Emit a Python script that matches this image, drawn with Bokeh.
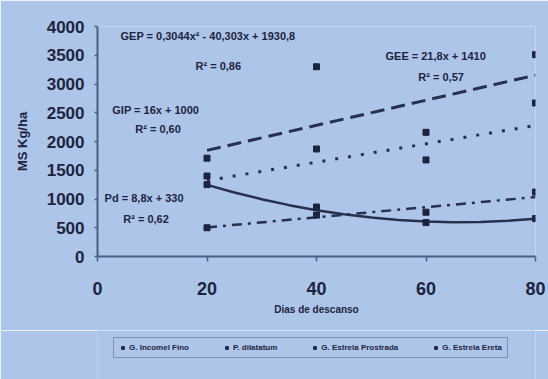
from bokeh.plotting import figure
from bokeh.layouts import column
from bokeh.models import Range1d, FixedTicker, Label, Legend, LegendItem
from bokeh.embed import file_html
from bokeh.resources import INLINE

# ---- data ----
days = [20, 40, 60, 80]
gif_pts = [1400, 1870, 1680, 2670]      # G. Incomel Fino (GIP)
pd_pts = [500, 720, 770, 1120]          # P. dilatatum (Pd)
gep_pts = [1250, 860, 590, 660]         # G. Estrela Prostrada (GEP)
gee_pts = [1710, 3300, 2160, 3510]      # G. Estrela Ereta (GEE)

lin_x = [20, 80]
gif_trend = [1320, 2280]
pd_trend = [506, 1034]
gee_trend = [1846, 3154]
quad_x = [20, 25, 30, 35, 40, 45, 50, 55, 60, 65, 70, 75, 80]
gep_trend = [1246, 1113, 996, 893, 806, 734, 677, 635, 608, 597, 601, 620, 655]

series_names = ["G. Incomel Fino", "P. dilatatum", "G. Estrela Prostrada", "G. Estrela Ereta"]
x_ticks = [0, 20, 40, 60, 80]

eq_texts = ["GEP = 0,3044x\u00b2 - 40,303x + 1930,8", "R\u00b2 = 0,86",
            "GIP = 16x + 1000", "R\u00b2 = 0,60",
            "Pd = 8,8x + 330", "R\u00b2 = 0,62",
            "GEE = 21,8x + 1410", "R\u00b2 = 0,57"]
eq_x = [4.2, 17.9, 2.7, 6.9, 1.3, 4.7, 52.6, 58.6]
eq_y = [3830, 3320, 2540, 2210, 1010, 645, 3480, 3130]

BG = "#aec5ea"
INK = "#1c2440"
LINE = "#27304f"
AXC = "#4d5d85"
FONT = "Liberation Sans"

p = figure(width=548, height=330, output_backend="svg", toolbar_location=None,
           x_range=Range1d(0, 80), y_range=Range1d(0, 4000),
           min_border_left=97, min_border_right=13, min_border_top=26, min_border_bottom=74)
p.background_fill_color = BG
p.border_fill_color = BG
p.outline_line_color = None
p.grid.grid_line_color = None

for ax in (p.xaxis[0], p.yaxis[0]):
    ax.axis_line_color = AXC
    ax.axis_line_width = 2
    ax.major_tick_line_color = AXC
    ax.major_tick_line_width = 1.5
    ax.minor_tick_line_color = None
    ax.major_label_text_font = FONT
    ax.major_label_text_font_style = "bold"
    ax.major_label_text_color = INK
    ax.axis_label_text_font = FONT
    ax.axis_label_text_font_style = "bold"
    ax.axis_label_text_color = INK

p.xaxis.ticker = FixedTicker(ticks=x_ticks)
p.xaxis.major_tick_out = 5
p.xaxis.major_tick_in = 0
p.xaxis.major_label_standoff = 20
p.xaxis.major_label_text_font_size = "18px"
p.xaxis.axis_label = "Dias de descanso"
p.xaxis.axis_label_text_font_size = "10px"
p.xaxis.axis_label_standoff = 6

p.yaxis.ticker = FixedTicker(ticks=list(range(0, 4001, 500)))
p.yaxis.major_tick_out = 3
p.yaxis.major_tick_in = 0
p.yaxis.major_label_standoff = 10
p.yaxis.major_label_text_font_size = "17px"
p.yaxis.axis_label = "MS Kg/ha"
p.yaxis.axis_label_text_font_size = "13px"
p.yaxis.axis_label_standoff = 14

# trend lines
p.line(lin_x, gee_trend, line_color=LINE, line_width=3, line_dash="14 7")
p.line(lin_x, gif_trend, line_color=LINE, line_width=3, line_dash="3 10")
p.line(lin_x, pd_trend, line_color=LINE, line_width=2.5, line_dash="10 6 3 6")
p.line(quad_x, gep_trend, line_color=LINE, line_width=2.5)

# points
for pts in (gif_pts, pd_pts, gep_pts, gee_pts):
    p.scatter(days, pts, marker="square", size=6, color=INK)

for t, xx, yy in zip(eq_texts, eq_x, eq_y):
    p.add_layout(Label(x=xx, y=yy, text=t, text_font=FONT, text_font_style="bold",
                       text_font_size="11px", text_color=INK, text_baseline="middle"))

# legend strip (separate figure so the legend sits below the axis title)
pl = figure(width=548, height=49, output_backend="svg", toolbar_location=None,
            x_range=Range1d(0, 1), y_range=Range1d(0, 1),
            min_border_left=0, min_border_right=0, min_border_top=0, min_border_bottom=0)
pl.background_fill_color = BG
pl.border_fill_color = BG
pl.outline_line_color = None
pl.grid.grid_line_color = None
pl.axis.visible = False
# legend-key renderers only (their single point lies outside the visible range)
leg_renderers = [pl.scatter([-5], [-5], marker="square", size=5, color=INK) for _ in series_names]

legend = Legend(items=[LegendItem(label=n, renderers=[r]) for n, r in
                       zip(series_names, leg_renderers)],
                orientation="horizontal", location=(16, 21))
legend.label_text_font = FONT
legend.label_text_font_style = "bold"
legend.label_text_font_size = "8px"
legend.label_text_color = INK
legend.glyph_width = 7
legend.glyph_height = 7
legend.label_standoff = 3
legend.spacing = 34
legend.padding = 5
legend.margin = 0
legend.border_line_color = AXC
legend.border_line_width = 1.5
legend.background_fill_color = BG
legend.background_fill_alpha = 1
pl.add_layout(legend, "center")

layout = column(p, pl, spacing=0)
open("out.html", "w").write(file_html(layout, INLINE))
